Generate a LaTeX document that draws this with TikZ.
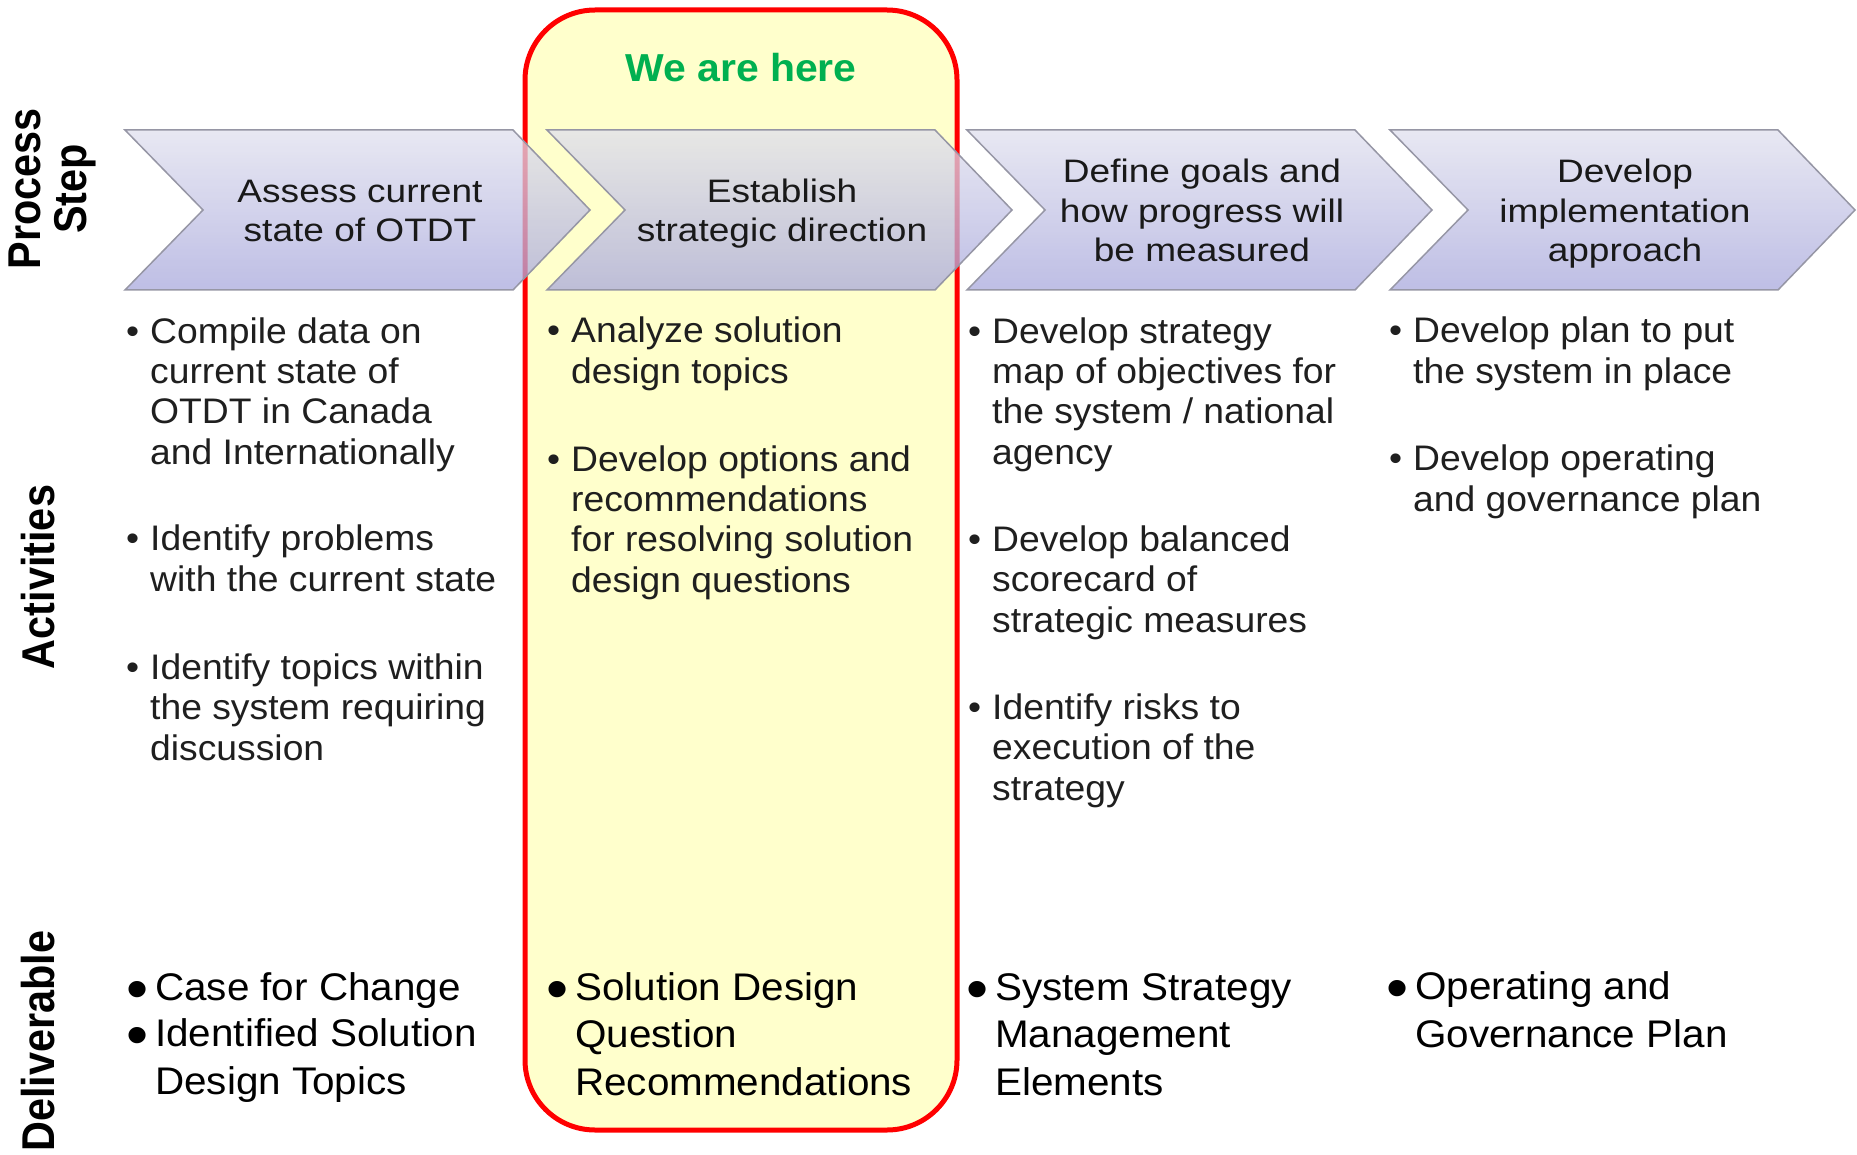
\documentclass[tikz,border=0pt]{standalone}
\usepackage{fontspec}
\setmainfont{Liberation Sans}
\newfontfamily\stepfont[FakeStretch=1.14]{Liberation Sans}
\newfontfamily\itemfont[FakeStretch=1.05]{Liberation Sans}
\newfontfamily\rowfont[FakeStretch=0.9]{Liberation Sans}
\definecolor{herebox}{RGB}{255,255,204}
\definecolor{heregreen}{RGB}{0,176,80}
\definecolor{steptop}{RGB}{224,224,238}
\definecolor{stepbot}{RGB}{168,168,220}
\definecolor{stepline}{RGB}{150,150,165}
\newcommand{\abul}{\llap{•\hspace{11pt}}}
\newcommand{\dbul}{\llap{\raisebox{-9pt}{\fontsize{60}{60}\selectfont•}\hspace{7pt}}}

\begin{document}
\begin{tikzpicture}[x=1pt,y=-1pt,
	steplabel/.style={font=\stepfont\fontsize{32.5}{39.5}\selectfont, align=center, anchor=base, inner sep=0pt, text=black!90},
	activity/.style={font=\itemfont\fontsize{35.5}{40.3}\selectfont, align=left, anchor=base west, inner sep=0pt, text=black!88},
	deliv/.style={font=\itemfont\fontsize{38.5}{47.5}\selectfont, align=left, anchor=base west, inner sep=0pt},
	rowlabel/.style={font=\rowfont\bfseries\fontsize{46}{46}\selectfont, rotate=90, align=center, inner sep=0pt}]
\useasboundingbox (0,0) rectangle (1857,1155);

% the current step
\draw [red, line width=5pt, fill=herebox, rounded corners=70pt] (525,10) rectangle (957,1130);
\node [font=\itemfont\bfseries\fontsize{39}{39}\selectfont, text=heregreen, anchor=base] (here) at (741,82) {We are here};

% process steps (y = baseline of the last line)
\foreach \x/\y/\name/\txt in {125/242/assess/{Assess current\\state of OTDT},
		547/242/establish/{Establish\\strategic direction},
		967/262/define/{Define goals and\\how progress will\\be measured},
		1390/262/develop/{Develop\\implementation\\approach}}
{
	\shade [top color=steptop, bottom color=stepbot, fill opacity=.75, draw=stepline, line width=1.5pt]
		(\x,130) -- ++(388,0) -- ++(77,80) -- ++(-77,80) -- ++(-388,0) -- ++(78,-80) -- cycle;
	\node [steplabel] (\name) at (\x+235,\y) {\txt};
}

% row titles
\node [rowlabel] (steprow) at (52,189) {Process\\Step};
\node [rowlabel] (actrow) at (38,577) {Activities};
\node [rowlabel] (delrow) at (38,1041) {Deliverable};

% activities (y = baseline of the last line)
\node [activity] (assessA) at (150,464) {\abul Compile data on\\current state of\\OTDT in Canada\\and Internationally};
\node [activity] (assessB) at (150,591) {\abul Identify problems\\with the current state};
\node [activity] (assessC) at (150,760) {\abul Identify topics within\\the system requiring\\discussion};

\node [activity] (establishA) at (571,383) {\abul Analyze solution\\design topics};
\node [activity] (establishB) at (571,592) {\abul Develop options and\\recommendations\\for resolving solution\\design questions};

\node [activity] (defineA) at (992,464) {\abul Develop strategy\\map of objectives for\\the system / national\\agency};
\node [activity] (defineB) at (992,632) {\abul Develop balanced\\scorecard of\\strategic measures};
\node [activity] (defineC) at (992,800) {\abul Identify risks to\\execution of the\\strategy};

\node [activity] (developA) at (1413,383) {\abul Develop plan to put\\the system in place};
\node [activity] (developB) at (1413,511) {\abul Develop operating\\and governance plan};

% deliverables
\node [deliv] (assessD) at (155,1000) {\dbul Case for Change};
\node [deliv] (assessE) at (155,1094) {\dbul Identified Solution\\Design Topics};
\node [deliv] (establishD) at (575,1095) {\dbul Solution Design\\Question\\Recommendations};
\node [deliv] (defineD) at (995,1095) {\dbul System Strategy\\Management\\Elements};
\node [deliv] (developD) at (1415,1047) {\dbul Operating and\\Governance Plan};
\end{tikzpicture}
\end{document}
